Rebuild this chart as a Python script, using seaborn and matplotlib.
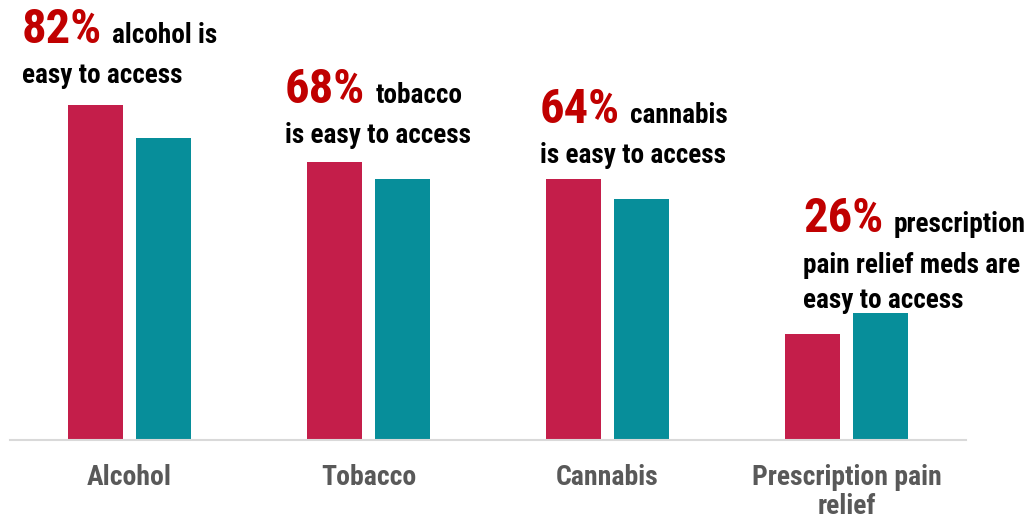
import matplotlib
matplotlib.use("Agg")
import matplotlib.pyplot as plt
import seaborn as sns
import pandas as pd
from matplotlib.transforms import offset_copy

categories = ["Alcohol", "Tobacco", "Cannabis", "Prescription pain relief"]
tick_labels = ["Alcohol", "Tobacco", "Cannabis", "Prescription pain\nrelief"]
series_names = ["Series 1", "Series 2"]
series1 = [82, 68, 64, 26]
series2 = [74, 64, 59, 31]

headline_pct = ["82%", "68%", "64%", "26%"]
headline_lines = [
    ["alcohol is", "easy to access"],
    ["tobacco", "is easy to access"],
    ["cannabis", "is easy to access"],
    ["prescription", "pain relief meds are", "easy to access"],
]

RED = "#C41E4A"
TEAL = "#078E9A"
NUM_RED = "#C00000"
GRAY = "#595959"

rows = []
for c, a, b in zip(categories, series1, series2):
    rows.append({"category": c, "series": series_names[0], "value": a})
    rows.append({"category": c, "series": series_names[1], "value": b})
df = pd.DataFrame(rows)

sns.set_theme(style="white")
FONT = ["Roboto Condensed", "DejaVu Sans"]
plt.rcParams["font.family"] = FONT

fig = plt.figure(figsize=(10.31, 5.23), dpi=100)
ax = fig.add_axes([10 / 1031, 83 / 523, 956 / 1031, 408.5 / 523])

sns.barplot(data=df, x="category", y="value", hue="series",
            palette=[RED, TEAL], saturation=1, width=0.57, gap=0.19,
            linewidth=0, legend=False, ax=ax, errorbar=None)

ax.set_xlim(-0.5, 3.5)
ax.set_ylim(0, 100)
ax.set_xlabel("")
ax.set_ylabel("")
ax.set_yticks([])
ax.set_xticks(range(len(categories)))
ax.set_xticklabels(tick_labels, fontsize=20, fontweight="bold", color=GRAY,
                   linespacing=1.12)
ax.tick_params(axis="x", length=0, pad=17)
for s in ["top", "right", "left"]:
    ax.spines[s].set_visible(False)
ax.spines["bottom"].set_color("#D9D9D9")
ax.spines["bottom"].set_linewidth(1.5)

# annotation layout: (x offset from category, baseline y for each line)
x_offsets = [-0.45, -0.349, -0.282, -0.182]
line_y = [
    [97.2, 87.4],
    [82.4, 72.6],
    [77.5, 67.7],
    [50.9, 40.9, 32.3],
]
TXT = 19.6

fig.canvas.draw()
renderer = fig.canvas.get_renderer()
for i in range(len(categories)):
    x = i + x_offsets[i]
    ys = line_y[i]
    t = ax.text(x, ys[0], headline_pct[i], fontsize=35, fontweight="bold",
                color=NUM_RED, va="baseline", ha="left")
    bb = t.get_window_extent(renderer=renderer)
    w_data = (bb.x1 - bb.x0) / (ax.transData.transform((1, 0))[0] - ax.transData.transform((0, 0))[0])
    tr = offset_copy(ax.transData, fig=fig, x=10, y=0, units="dots")
    ax.text(x + w_data, ys[0], headline_lines[i][0], fontsize=TXT,
            fontweight="bold", color="black", va="baseline", ha="left",
            transform=tr)
    for line, y in zip(headline_lines[i][1:], ys[1:]):
        ax.text(x, y, line, fontsize=TXT, fontweight="bold", color="black",
                va="baseline", ha="left")

fig.savefig("out.png", dpi=100)
